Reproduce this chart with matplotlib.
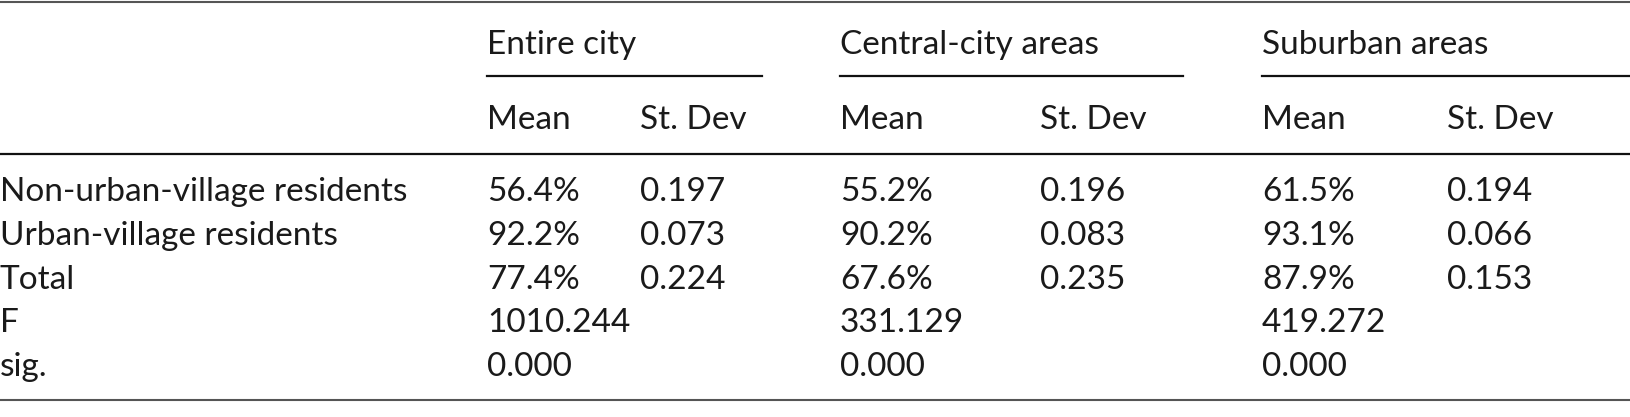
import matplotlib.pyplot as plt

rows = ['Non-urban-village residents', 'Urban-village residents', 'Total', 'F', 'sig.']
groups = ['Entire city', 'Central-city areas', 'Suburban areas']
subcols = ['Mean', 'St. Dev']
means = [['56.4%', '55.2%', '61.5%'],
         ['92.2%', '90.2%', '93.1%'],
         ['77.4%', '67.6%', '87.9%'],
         ['1010.244', '331.129', '419.272'],
         ['0.000', '0.000', '0.000']]
stdevs = [['0.197', '0.196', '0.194'],
          ['0.073', '0.083', '0.066'],
          ['0.224', '0.235', '0.153'],
          ['', '', ''],
          ['', '', '']]

plt.rcParams['font.family'] = ['Lato', 'DejaVu Sans']
fs = 24
col_mean = [487, 840, 1262]
col_sd = [640, 1040, 1447]
line_end = [762, 1183, 1631]
row_y = [192, 236, 280, 323, 367]

fig = plt.figure(figsize=(16.31, 4.17), dpi=100)
ax = fig.add_axes([0, 0, 1, 1])
ax.set_xlim(0, 1631)
ax.set_ylim(417, 0)
ax.axis('off')

ax.plot([0, 1631], [1.5, 1.5], color='#555555', lw=1.5)
ax.plot([0, 1631], [154, 154], color='#111111', lw=1.6)
ax.plot([0, 1631], [400, 400], color='#555555', lw=1.5)

for i, g in enumerate(groups):
    ax.text(col_mean[i], 45, g, fontsize=fs, va='center', ha='left', color='#1a1a1a')
    ax.plot([col_mean[i], line_end[i]], [76, 76], color='#111111', lw=1.6)
    ax.text(col_mean[i], 120, subcols[0], fontsize=fs, va='center', ha='left', color='#1a1a1a')
    ax.text(col_sd[i], 120, subcols[1], fontsize=fs, va='center', ha='left', color='#1a1a1a')

for r, lab in enumerate(rows):
    ax.text(0, row_y[r], lab, fontsize=fs, va='center', ha='left', color='#1a1a1a')
    for i in range(3):
        ax.text(col_mean[i], row_y[r], means[r][i], fontsize=fs, va='center', ha='left', color='#1a1a1a')
        ax.text(col_sd[i], row_y[r], stdevs[r][i], fontsize=fs, va='center', ha='left', color='#1a1a1a')

fig.savefig('out.png', dpi=100)
